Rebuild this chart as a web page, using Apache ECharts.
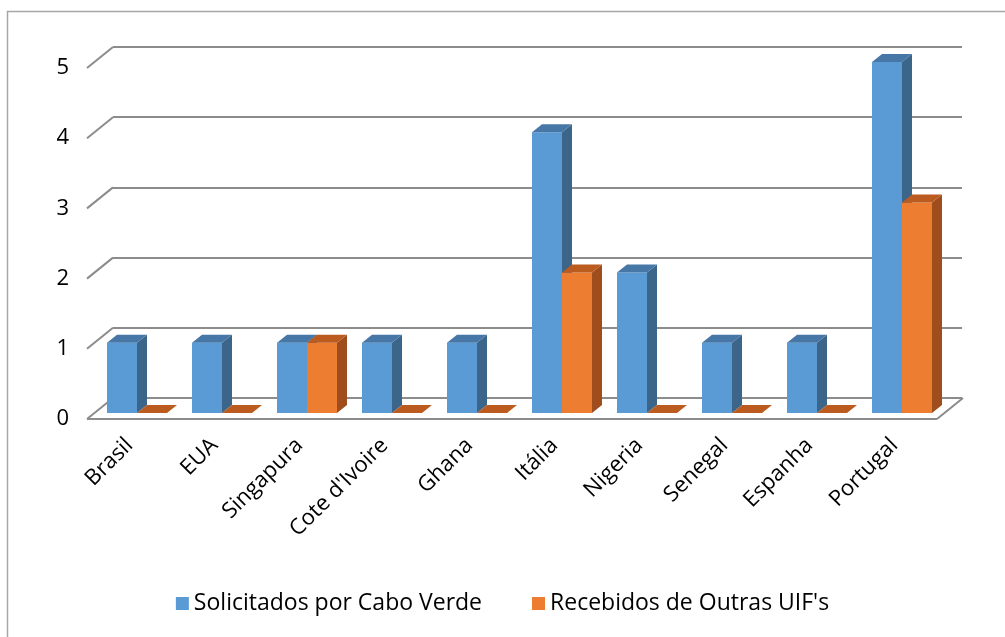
<!DOCTYPE html>
<html>
<head>
<meta charset="utf-8">
<script src="https://cdn.jsdelivr.net/npm/echarts@6/dist/echarts.min.js"></script>
<style>
  html, body { margin: 0; padding: 0; background: #fff; }
  #chart { width: 1005px; height: 637px; }
</style>
</head>
<body>
<div id="chart"></div>
<script>
const categories = ['Brasil', 'EUA', 'Singapura', "Cote d'Ivoire", 'Ghana', 'Itália', 'Nigeria', 'Senegal', 'Espanha', 'Portugal'];
const solicitados = [1, 1, 1, 1, 1, 4, 2, 1, 1, 5];
const recebidos = [0, 0, 1, 0, 0, 2, 0, 0, 0, 3];
const yTicks = [0, 1, 2, 3, 4, 5];

const chart = echarts.init(document.getElementById('chart'));

// depth of the "room" (front plane -> back wall) and of each bar
const DX = 26, DY = -21;
const BAR_OFF = [7.5, -6];
const BAR_DX = 10, BAR_DY = -8;

const palette = [
  { front: '#5b9bd5', side: '#3b6589', top: '#4677a6' },
  { front: '#ed7d31', side: '#9f4d1c', top: '#bb5b1f' }
];

function barItem(si) {
  return function (params, api) {
    const idx = api.value(0);
    const val = api.value(1);
    const base = api.coord([idx, 0]);
    const topP = api.coord([idx, val]);
    const w = api.size([1, 0])[0] * 30 / 85;
    const cx = base[0] + BAR_OFF[0];
    const x0 = si === 0 ? cx - w : cx;
    const x1 = x0 + w;
    const yb = base[1] + BAR_OFF[1];
    const yt = topP[1] + BAR_OFF[1];
    const c = palette[si];
    return {
      type: 'group',
      children: [
        { type: 'rect', shape: { x: x0, y: yt, width: w, height: yb - yt }, style: { fill: c.front } },
        { type: 'polygon', shape: { points: [[x1, yt], [x1 + BAR_DX, yt + BAR_DY], [x1 + BAR_DX, yb + BAR_DY], [x1, yb]] }, style: { fill: c.side } },
        { type: 'polygon', shape: { points: [[x0, yt], [x0 + BAR_DX, yt + BAR_DY], [x1 + BAR_DX, yt + BAR_DY], [x1, yt]] }, style: { fill: c.top } }
      ]
    };
  };
}

const lineStyle = { stroke: '#8c8c8c', lineWidth: 2 };

const option = {
  animation: false,
  textStyle: { fontFamily: 'Open Sans' },
  graphic: [
    { type: 'rect', shape: { x: 7.5, y: 11.5, width: 1020, height: 650 }, style: { fill: null, stroke: '#a6a6a6', lineWidth: 1.5 }, silent: true }
  ],
  grid: [
    { left: 113, right: 43, top: 47, bottom: 239 },
    { left: 87, right: 68, top: 68, bottom: 218 }
  ],
  xAxis: [
    { gridIndex: 0, type: 'category', data: categories, show: false },
    {
      gridIndex: 1, type: 'category', data: categories,
      axisLine: { show: false }, axisTick: { show: false },
      axisLabel: { rotate: 45, margin: 23, fontSize: 22, color: '#000', interval: 0 }
    }
  ],
  yAxis: [
    {
      gridIndex: 0, type: 'value', min: 0, max: 5, interval: 1,
      axisLabel: { show: false }, axisLine: { show: false }, axisTick: { show: false },
      splitLine: { lineStyle: { color: '#8c8c8c', width: 2 } }
    },
    {
      gridIndex: 1, type: 'value', min: 0, max: 5, interval: 1,
      axisLine: { show: false }, axisTick: { show: false }, splitLine: { show: false },
      axisLabel: { fontSize: 22, color: '#000', margin: 18 }
    }
  ],
  legend: {
    bottom: 17, left: 'center', itemWidth: 13, itemHeight: 13, itemGap: 50,
    icon: 'rect',
    textStyle: { fontSize: 23, color: '#000', fontFamily: 'Open Sans' },
    data: ['Solicitados por Cabo Verde', "Recebidos de Outras UIF's"]
  },
  series: [
    {
      // diagonal wall lines + floor edges
      type: 'custom', xAxisIndex: 1, yAxisIndex: 1, silent: true, z: 1,
      data: yTicks.map(v => [0, v]),
      renderItem: function (params, api) {
        const v = api.value(1);
        const p = api.coord([0, v]);
        const x0 = p[0] - api.size([1, 0])[0] / 2;
        const children = [
          { type: 'line', shape: { x1: x0, y1: p[1], x2: x0 + DX, y2: p[1] + DY }, style: lineStyle }
        ];
        if (v === 0) {
          const xr = api.coord([categories.length - 1, 0])[0] + api.size([1, 0])[0] / 2;
          children.push({ type: 'line', shape: { x1: x0, y1: p[1], x2: xr, y2: p[1] }, style: lineStyle });
          children.push({ type: 'line', shape: { x1: xr, y1: p[1], x2: xr + DX, y2: p[1] + DY }, style: lineStyle });
        }
        return { type: 'group', children: children };
      }
    },
    {
      name: 'Solicitados por Cabo Verde', type: 'custom', xAxisIndex: 1, yAxisIndex: 1, z: 3,
      itemStyle: { color: palette[0].front },
      data: solicitados.map((v, i) => [i, v]),
      renderItem: barItem(0)
    },
    {
      name: "Recebidos de Outras UIF's", type: 'custom', xAxisIndex: 1, yAxisIndex: 1, z: 4,
      itemStyle: { color: palette[1].front },
      data: recebidos.map((v, i) => [i, v]),
      renderItem: barItem(1)
    }
  ]
};

chart.setOption(option);
</script>
</body>
</html>
